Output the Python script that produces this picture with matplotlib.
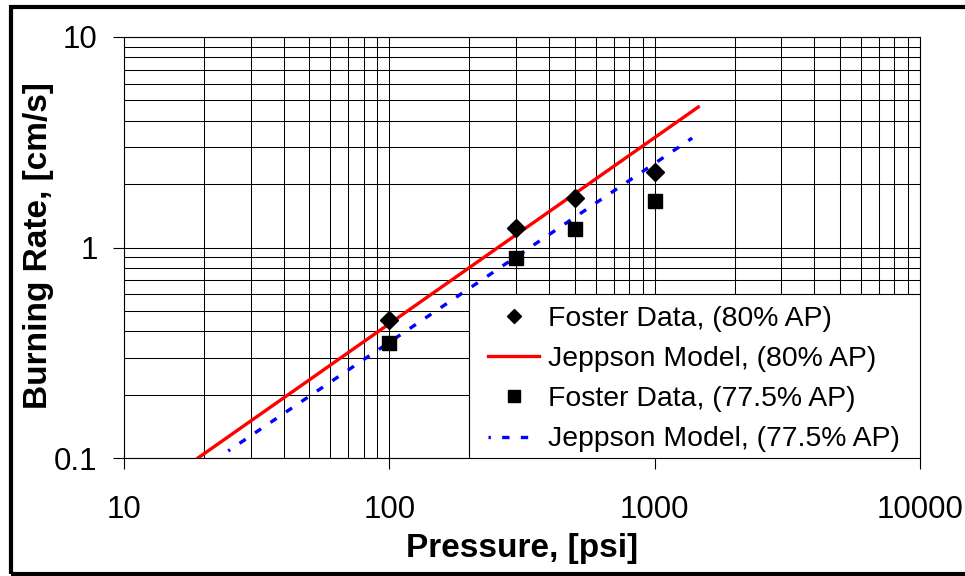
import matplotlib
matplotlib.use('Agg')
import matplotlib.pyplot as plt
from matplotlib.patches import Rectangle
from matplotlib.ticker import FixedLocator, FixedFormatter, NullFormatter, LogLocator

plt.rcParams['font.family'] = ['Liberation Sans', 'DejaVu Sans']

# Foster measurements, pressure in psi, burning rate in cm/s
foster_p = [100, 300, 500, 1000]
foster_80 = [0.45, 1.24, 1.72, 2.28]
foster_775 = [0.35, 0.89, 1.22, 1.66]

# Jeppson model lines (straight in log-log, end points)
model_p_80 = [19.0, 1460]
model_r_80 = [0.10, 4.65]
model_p_775 = [24.7, 1385]
model_r_775 = [0.108, 3.31]

x_ticks = [10, 100, 1000, 10000]
x_labels = ['10', '100', '1000', '10000']
y_ticks = [0.1, 1, 10]
y_labels = ['0.1', '1', '10']

fig = plt.figure(figsize=(9.65, 5.76), dpi=100)
ax = fig.add_axes([124 / 965, 1 - 458 / 576, (920 - 124) / 965, (458 - 37) / 576])

ax.plot(foster_p, foster_80, linestyle='none', marker='D', ms=9.5, color='black',
        label='Foster Data, (80% AP)', zorder=4)
ax.plot(model_p_80, model_r_80, color='#ff0000', lw=2.4,
        label='Jeppson Model, (80% AP)', zorder=3)
ax.plot(foster_p, foster_775, linestyle='none', marker='s', ms=10, color='black',
        label='Foster Data, (77.5% AP)', zorder=4)
ax.plot(model_p_775, model_r_775, color='#0000ff', lw=2.4, linestyle=(1.5, (2.2, 3.4)),
        label='Jeppson Model, (77.5% AP)', zorder=3)

ax.set_xscale('log')
ax.set_yscale('log')
ax.set_xlim(10, 10000)
ax.set_ylim(0.1, 10)

ax.xaxis.set_major_locator(FixedLocator(x_ticks))
ax.xaxis.set_major_formatter(FixedFormatter(x_labels))
ax.yaxis.set_major_locator(FixedLocator(y_ticks))
ax.yaxis.set_major_formatter(FixedFormatter(y_labels))
ax.xaxis.set_minor_locator(LogLocator(base=10, subs=range(2, 10)))
ax.yaxis.set_minor_locator(LogLocator(base=10, subs=range(2, 10)))
ax.xaxis.set_minor_formatter(NullFormatter())
ax.yaxis.set_minor_formatter(NullFormatter())

ax.grid(True, which='both', color='black', lw=0.75)
ax.set_axisbelow(True)
ax.tick_params(which='major', direction='out', length=8, width=0.8, labelsize=22.5)
ax.tick_params(axis='x', which='major', pad=19)
ax.tick_params(axis='y', which='major', pad=11)
ax.tick_params(which='minor', length=0)
for sp in ax.spines.values():
    sp.set_linewidth(0.8)

ax.set_xlabel('Pressure, [psi]', fontsize=24, fontweight='bold')
ax.set_ylabel('Burning Rate, [cm/s]', fontsize=24, fontweight='bold')
ax.xaxis.set_label_coords(0.5, (458 - 564) / 421)
ax.xaxis.label.set_va('bottom')
ax.yaxis.set_label_coords((39 - 124) / 796, (458 - 246) / 421)
ax.yaxis.label.set_va('center')

# legend box: white panel in the lower right corner, entries drawn on top
ax.add_patch(Rectangle(((469 - 124) / 796, 0), (920 - 469) / 796, (458 - 294) / 421,
                       transform=ax.transAxes, facecolor='white', edgecolor='black',
                       lw=0.8, zorder=5))
leg = ax.legend(loc='upper left', bbox_to_anchor=((488 - 124) / 796, (458 - 306) / 421),
                borderaxespad=0, borderpad=0, frameon=False,
                fontsize=20.4, handlelength=1.8, handletextpad=0.3,
                labelspacing=0.5, markerscale=0.8)
leg.set_zorder(6)

# frame around the whole figure
fig.add_artist(Rectangle((11 / 965, 2 / 576), 1.0, 567 / 576, transform=fig.transFigure,
                         fill=False, edgecolor='black', lw=3, clip_on=False))

fig.savefig('out.png', dpi=100)
